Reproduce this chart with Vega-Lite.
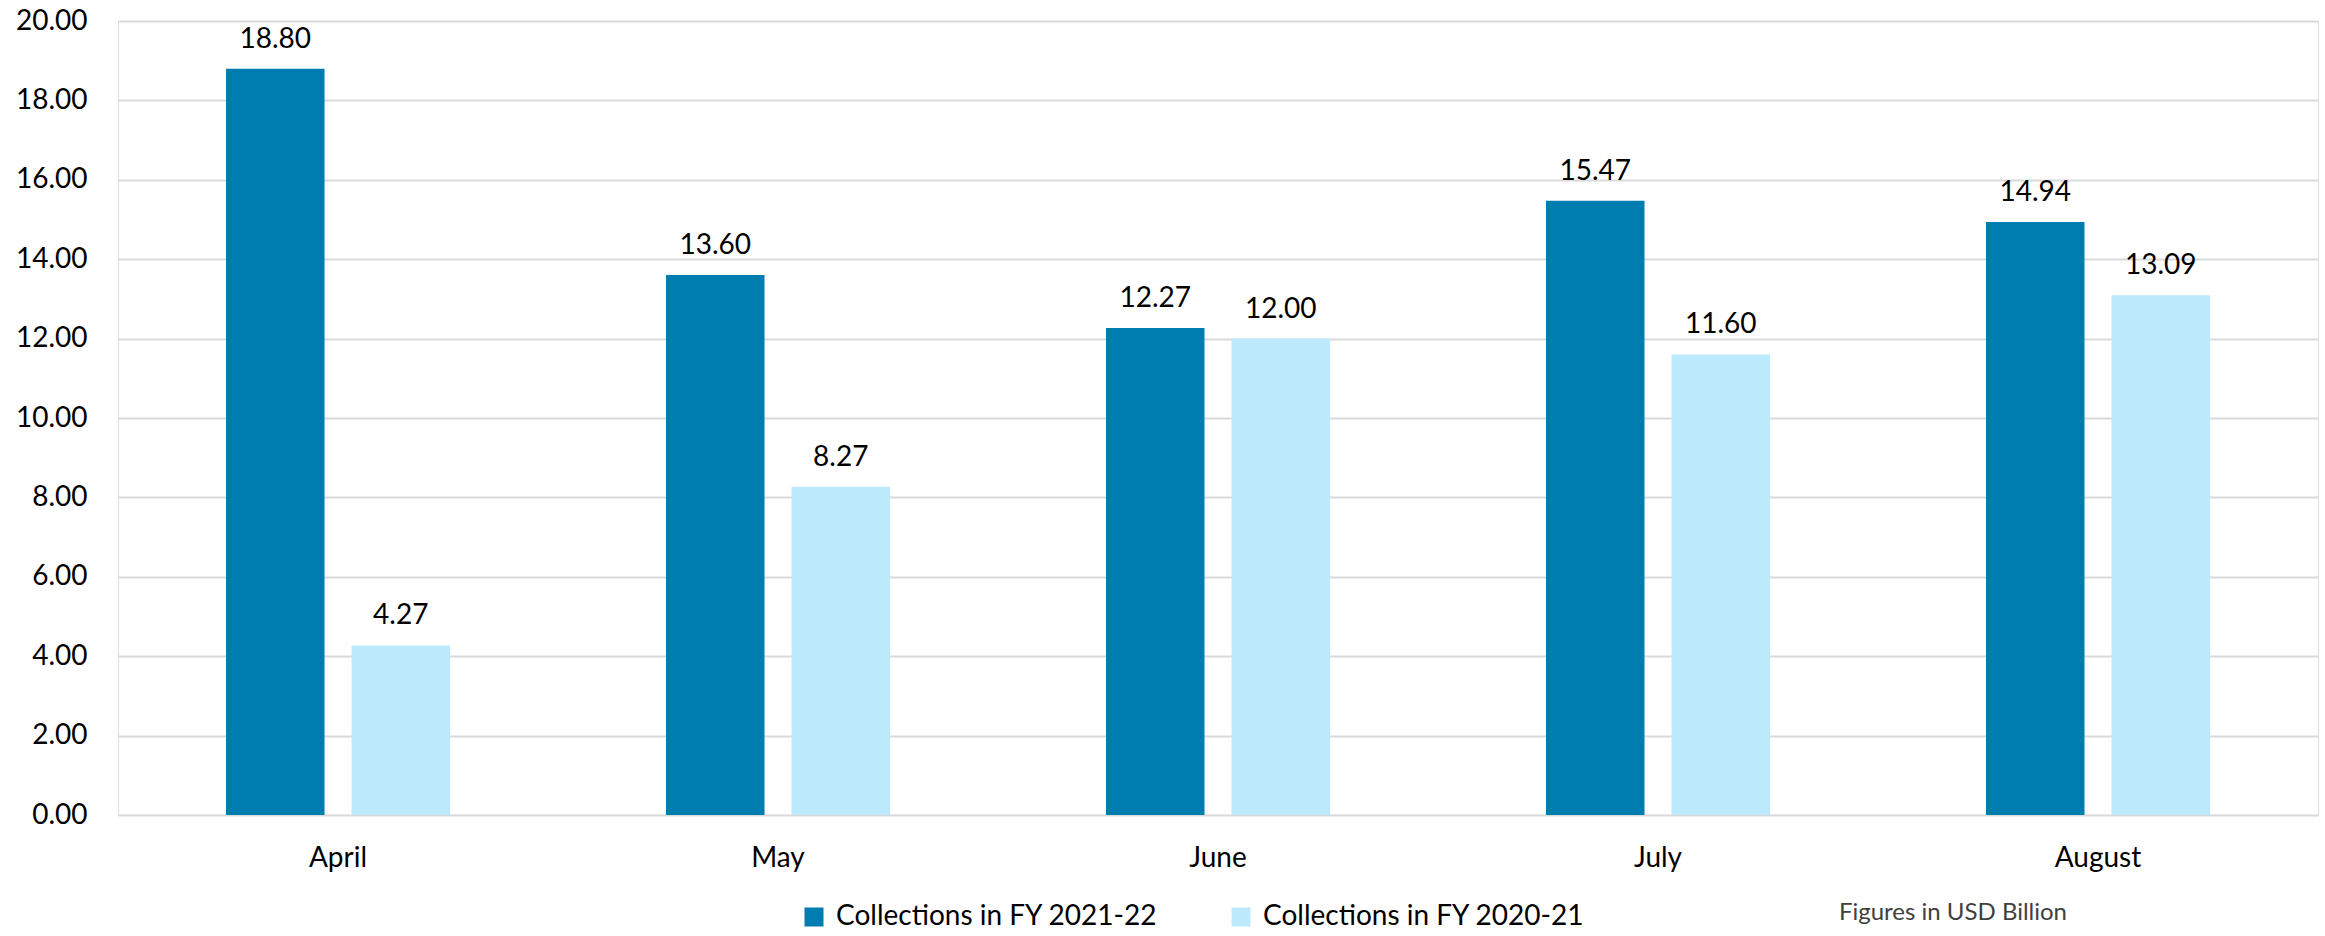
{
  "$schema": "https://vega.github.io/schema/vega-lite/v6.json",
  "width": 2200,
  "height": 794,
  "autosize": {"type": "none"},
  "padding": {"left": 118, "top": 21, "right": 7, "bottom": 121},
  "background": "white",
  "title": {
    "text": "Figures in USD Billion",
    "orient": "bottom",
    "anchor": "end",
    "dx": -251,
    "offset": -30,
    "font": "Lato",
    "fontSize": 24,
    "fontWeight": "normal",
    "color": "#404040"
  },
  "data": {
    "values": [
      {"month": "April", "series": "Collections in FY 2021-22", "value": 18.80},
      {"month": "April", "series": "Collections in FY 2020-21", "value": 4.27},
      {"month": "May", "series": "Collections in FY 2021-22", "value": 13.60},
      {"month": "May", "series": "Collections in FY 2020-21", "value": 8.27},
      {"month": "June", "series": "Collections in FY 2021-22", "value": 12.27},
      {"month": "June", "series": "Collections in FY 2020-21", "value": 12.00},
      {"month": "July", "series": "Collections in FY 2021-22", "value": 15.47},
      {"month": "July", "series": "Collections in FY 2020-21", "value": 11.60},
      {"month": "August", "series": "Collections in FY 2021-22", "value": 14.94},
      {"month": "August", "series": "Collections in FY 2020-21", "value": 13.09}
    ]
  },
  "encoding": {
    "x": {
      "field": "month",
      "type": "nominal",
      "sort": ["April", "May", "June", "July", "August"],
      "scale": {"paddingInner": 0.4909, "paddingOuter": 0.2455},
      "axis": {
        "title": null,
        "labelAngle": 0,
        "labelFont": "Lato",
        "labelFontSize": 28,
        "labelColor": "#000000",
        "labelPadding": 29,
        "ticks": false,
        "domain": false,
        "grid": false
      }
    },
    "xOffset": {
      "field": "series",
      "type": "nominal",
      "sort": ["Collections in FY 2021-22", "Collections in FY 2020-21"],
      "scale": {"paddingInner": 0.215, "paddingOuter": 0}
    },
    "y": {
      "field": "value",
      "type": "quantitative",
      "scale": {"domain": [0, 20], "nice": false},
      "axis": {
        "title": null,
        "values": [0, 2, 4, 6, 8, 10, 12, 14, 16, 18, 20],
        "format": ".2f",
        "labelFont": "Lato",
        "labelFontSize": 28,
        "labelColor": "#000000",
        "labelPadding": 31,
        "ticks": false,
        "domain": false,
        "grid": true,
        "gridColor": "#D9D9D9",
        "gridWidth": 2
      }
    }
  },
  "layer": [
    {
      "mark": {"type": "bar"},
      "encoding": {
        "color": {
          "field": "series",
          "type": "nominal",
          "sort": ["Collections in FY 2021-22", "Collections in FY 2020-21"],
          "scale": {
            "domain": ["Collections in FY 2021-22", "Collections in FY 2020-21"],
            "range": ["#007DB0", "#BDE9FC"]
          },
          "legend": {
            "title": null,
            "orient": "none",
            "direction": "horizontal",
            "legendX": 682,
            "legendY": 882,
            "symbolType": "square",
            "symbolSize": 361,
            "symbolStrokeWidth": 0,
            "symbolOpacity": 1,
            "labelFont": "Lato",
            "labelFontSize": 28,
            "labelColor": "#000000",
            "labelOffset": 8,
            "labelLimit": 500,
            "columnPadding": 69,
            "padding": 0
          }
        }
      }
    },
    {
      "mark": {
        "type": "text",
        "baseline": "alphabetic",
        "dy": -21,
        "font": "Lato",
        "fontSize": 28,
        "color": "#000000"
      },
      "encoding": {
        "text": {"field": "value", "type": "quantitative", "format": ".2f"}
      }
    }
  ]
}
